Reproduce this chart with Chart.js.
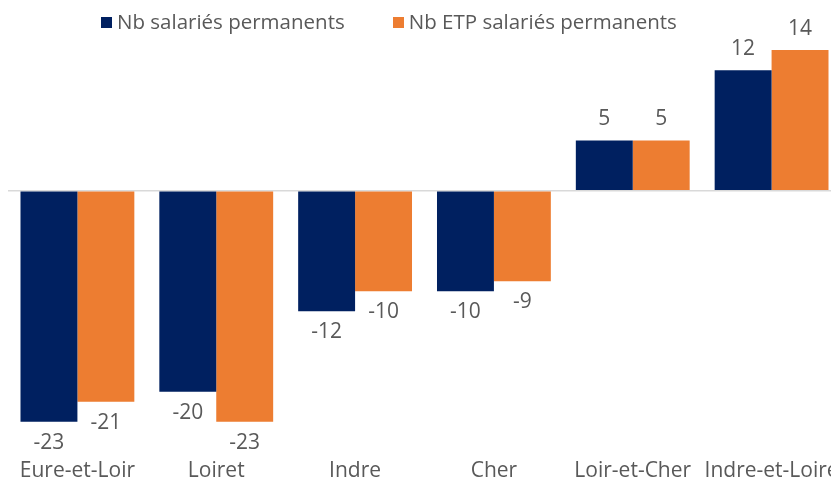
<!DOCTYPE html>
<html>
<head>
<meta charset="utf-8">
<script src="https://cdn.jsdelivr.net/npm/chart.js@4"></script>
<style>
  html, body { margin: 0; padding: 0; background: #fff; overflow: hidden; }
  #wrap { position: relative; width: 841px; height: 481px; }
  #legend { position: absolute; top: 7px; left: 101px; font-family: "Open Sans", sans-serif; font-size: 20.5px; line-height: 28px; color: #595959; white-space: nowrap; }
  #legend span.box { display: inline-block; width: 11px; height: 11px; margin-right: 5px; vertical-align: 1px; }
  #legend span.item { margin-right: 48px; }
</style>
</head>
<body>
<div id="wrap">
  <canvas id="myChart" width="841" height="481"></canvas>
  <div id="legend"></div>
</div>
<script>
const categories = ['Eure-et-Loir', 'Loiret', 'Indre', 'Cher', 'Loir-et-Cher', 'Indre-et-Loire'];
const seriesNames = ['Nb salariés permanents', 'Nb ETP salariés permanents'];
const salaries = [-23, -20, -12, -10, 5, 12];
const etp = [-21, -23, -10, -9, 5, 14];
const colors = ['#002060', '#ED7D31'];
const textColor = '#595959';
const fontFam = '"Open Sans", sans-serif';

// --legend
const leg = document.getElementById('legend');
leg.innerHTML = seriesNames.map((n, i) =>
  `<span class="item"><span class="box" style="background:${colors[i]}"></span>${n}</span>`).join('');

const valueLabels = {
  id: 'valueLabels',
  afterDatasetsDraw(chart) {
    const ctx = chart.ctx;
    ctx.save();
    ctx.font = '21px ' + fontFam;
    ctx.fillStyle = textColor;
    ctx.textAlign = 'center';
    ctx.textBaseline = 'middle';
    chart.data.datasets.forEach((ds, i) => {
      chart.getDatasetMeta(i).data.forEach((bar, j) => {
        const v = ds.data[j];
        const y = v < 0 ? bar.y + 21 : bar.y - 21;
        ctx.fillText(String(v), bar.x, y);
      });
    });
    ctx.restore();
  }
};

const ctx = document.getElementById('myChart').getContext('2d');
new Chart(ctx, {
  type: 'bar',
  data: {
    labels: categories,
    datasets: [
      { label: seriesNames[0], data: salaries, backgroundColor: colors[0] },
      { label: seriesNames[1], data: etp, backgroundColor: colors[1] }
    ]
  },
  options: {
    responsive: false,
    animation: false,
    layout: { padding: { left: 8, right: 0, top: 40, bottom: 0 } },
    datasets: { bar: { categoryPercentage: 0.82, barPercentage: 1 } },
    plugins: { legend: { display: false }, tooltip: { enabled: false } },
    scales: {
      x: {
        grid: { display: false },
        border: { display: false },
        ticks: { color: textColor, font: { family: fontFam, size: 21 }, padding: 0, maxRotation: 0, autoSkip: false },
        afterFit(scale) {
          // keep the plot full width and fixed height, labels may overflow
          scale.paddingLeft = 0;
          scale.paddingRight = 0;
          scale.height = 31;
        }
      },
      y: {
        min: -25.8, max: 15,
        ticks: { display: false, stepSize: 1 },
        border: { display: false },
        grid: {
          drawTicks: false,
          color: c => c.tick && c.tick.value === 0 ? '#D9D9D9' : 'rgba(0,0,0,0)',
          lineWidth: c => c.tick && c.tick.value === 0 ? 1.5 : 0
        }
      }
    }
  },
  plugins: [valueLabels]
});
</script>
</body>
</html>
